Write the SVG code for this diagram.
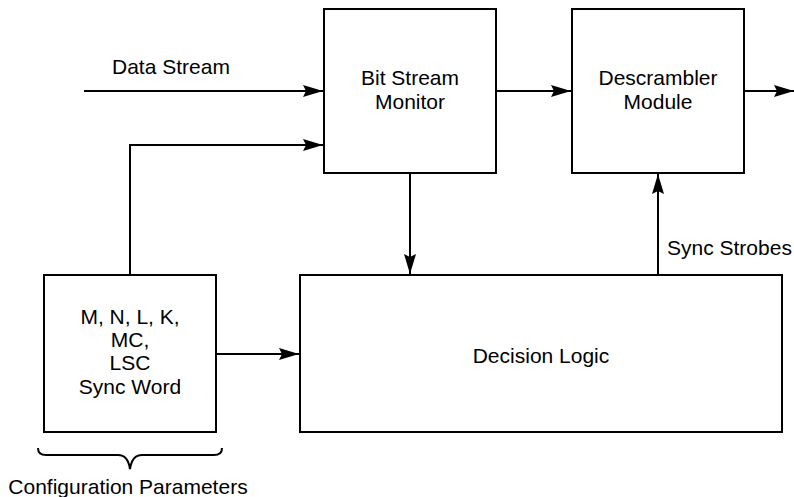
<svg xmlns="http://www.w3.org/2000/svg" width="794" height="497" viewBox="0 0 794 497">
<style>
.box{fill:#fff;stroke:#000;stroke-width:2}
.ln{fill:none;stroke:#000;stroke-width:2}
text{font-family:"Liberation Sans",Arial,sans-serif;font-size:21px;fill:#000}
.c{text-anchor:middle}
</style>
<defs>
<marker id="ah" markerWidth="20" markerHeight="12" refX="20" refY="6" orient="auto" markerUnits="userSpaceOnUse">
<path d="M0,0 L20,6 L0,12 L3,6 Z" fill="#000"/>
</marker>
</defs>
<rect width="794" height="497" fill="#fff"/>
<g id="connectors">
<line class="ln" x1="84" y1="91" x2="323" y2="91" marker-end="url(#ah)"/>
<polyline class="ln" points="130,275 130,145 323,145" marker-end="url(#ah)"/>
<line class="ln" x1="496" y1="91" x2="571" y2="91" marker-end="url(#ah)"/>
<line class="ln" x1="744" y1="91" x2="794" y2="91" marker-end="url(#ah)"/>
<line class="ln" x1="410" y1="173" x2="410" y2="274" marker-end="url(#ah)"/>
<line class="ln" x1="658" y1="275" x2="658" y2="174" marker-end="url(#ah)"/>
<line class="ln" x1="216" y1="354" x2="299" y2="354" marker-end="url(#ah)"/>
</g>
<g id="label-data-stream"><text x="112" y="74">Data Stream</text></g>
<g id="label-sync-strobes"><text x="667" y="255">Sync Strobes</text></g>
<g id="bit-stream-monitor">
<rect class="box" x="324" y="9" width="172" height="164"/>
<text class="c" x="410" y="85">Bit Stream</text>
<text class="c" x="410" y="109">Monitor</text>
</g>
<g id="descrambler">
<rect class="box" x="572" y="9" width="172" height="164"/>
<text class="c" x="658" y="85">Descrambler</text>
<text class="c" x="658" y="109">Module</text>
</g>
<g id="config">
<rect class="box" x="44" y="275" width="172" height="157"/>
<text class="c" x="130" y="324">M, N, L, K,</text>
<text class="c" x="130" y="347">MC,</text>
<text class="c" x="130" y="370">LSC</text>
<text class="c" x="130" y="394">Sync Word</text>
</g>
<g id="decision-logic">
<rect class="box" x="300" y="275" width="482" height="157"/>
<text class="c" x="541" y="363">Decision Logic</text>
</g>
<g id="config-parameters">
<path class="ln" d="M38,448 Q38,455 46,455 L118,455 Q128,455 130,469 Q132,455 142,455 L214,455 Q222,455 222,448"/>
<text class="c" x="128" y="494">Configuration Parameters</text>
</g>
</svg>
